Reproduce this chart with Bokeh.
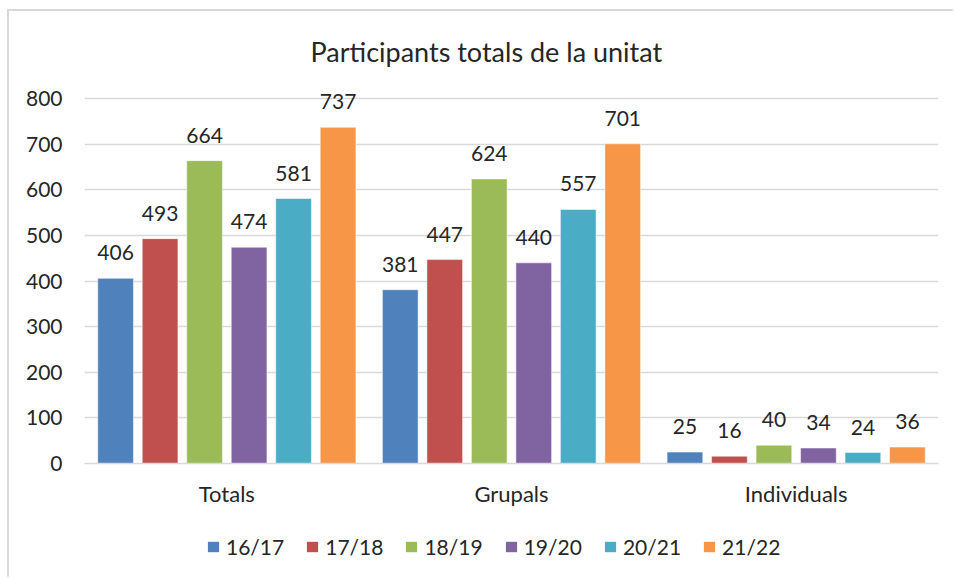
from bokeh.plotting import figure
from bokeh.models import (ColumnDataSource, FactorRange, Range1d, FixedTicker,
                          LabelSet, Legend, LegendItem)
from bokeh.core.properties import value
from bokeh.layouts import column
from bokeh.transform import dodge
from bokeh.embed import file_html
from bokeh.resources import INLINE

categories = ["Totals", "Grupals", "Individuals"]
seasons = ["16/17", "17/18", "18/19", "19/20", "20/21", "21/22"]
v_16_17 = [406, 381, 25]
v_17_18 = [493, 447, 16]
v_18_19 = [664, 624, 40]
v_19_20 = [474, 440, 34]
v_20_21 = [581, 557, 24]
v_21_22 = [737, 701, 36]
series = [v_16_17, v_17_18, v_18_19, v_19_20, v_20_21, v_21_22]
colors = ["#4F81BD", "#C0504D", "#9BBB59", "#8064A2", "#4BACC6", "#F79646"]
y_ticks = [0, 100, 200, 300, 400, 500, 600, 700, 800]

FONT = "Lato"
TXT = "#262626"
GRID = "#d9d9d9"
BORDER = "2px solid #d9d9d9"

p = figure(x_range=FactorRange(*categories, range_padding=0),
           y_range=Range1d(0, 820),
           width=946, height=518, output_backend="svg", toolbar_location=None,
           min_border_left=75, min_border_right=17, min_border_top=78,
           min_border_bottom=66, title="Participants totals de la unitat")
p.styles = {"margin-left": "7px", "margin-top": "9px",
            "border-top": BORDER, "border-left": BORDER}
p.outline_line_color = None

p.title.align = "left"
p.title.offset = 226
p.title.text_font = FONT
p.title.text_font_size = "27px"
p.title.text_font_style = "normal"
p.title.text_color = TXT
p.title.standoff = 40
p.title.vertical_align = "top"

step = 0.1563
width = 0.1254
data = {"cat": categories}
for i, s in enumerate(seasons):
    data["s%d" % i] = series[i]
source = ColumnDataSource(data)

# legend strip (its own small figure; its zero-width bars draw nothing)
lf = figure(x_range=FactorRange(*categories, range_padding=0),
            y_range=Range1d(-20000, -10000), width=946, height=50,
            output_backend="svg", toolbar_location=None,
            min_border_left=0, min_border_right=0, min_border_top=0,
            min_border_bottom=0)
lf.styles = {"margin-left": "7px", "border-left": BORDER}
lf.outline_line_color = None
lf.axis.visible = False
lf.grid.visible = False

items = []
for i, s in enumerate(seasons):
    off = (i - 2.5) * step
    p.vbar(x=dodge("cat", off, range=p.x_range), top="s%d" % i, width=width,
           source=source, fill_color=colors[i], line_color="white",
           line_alpha=0.5, line_width=1)
    lr = lf.vbar(x=dodge("cat", off, range=lf.x_range), top="s%d" % i,
                 width=0, source=source, fill_color=colors[i],
                 line_color=None)
    items.append(LegendItem(label=s, renderers=[lr]))
    lbl = LabelSet(x=dodge("cat", off, range=p.x_range), y="s%d" % i,
                   text="s%d" % i, source=source, text_align="center",
                   text_baseline="alphabetic", y_offset=18,
                   text_font=value(FONT), text_font_size=value("21px"),
                   text_color=TXT)
    p.add_layout(lbl)

p.yaxis.ticker = FixedTicker(ticks=y_ticks)
p.yaxis.axis_line_color = None
p.yaxis.major_tick_line_color = None
p.yaxis.minor_tick_line_color = None
p.yaxis.major_label_standoff = 16
p.yaxis.major_label_text_font = FONT
p.yaxis.major_label_text_font_size = "21px"
p.yaxis.major_label_text_color = TXT

p.xaxis.axis_line_color = GRID
p.xaxis.axis_line_width = 1.5
p.xaxis.major_tick_line_color = None
p.xaxis.minor_tick_line_color = None
p.xaxis.major_label_standoff = 10
p.xaxis.major_label_text_font = FONT
p.xaxis.major_label_text_font_size = "22px"
p.xaxis.major_label_text_color = TXT

p.xgrid.grid_line_color = None
p.ygrid.grid_line_color = GRID
p.ygrid.grid_line_width = 1.5

legend = Legend(items=items, orientation="horizontal", location=(122, 18),
                label_text_font=FONT, label_text_font_size="21px",
                label_text_color=TXT, glyph_width=14, glyph_height=13,
                label_standoff=6, spacing=21, padding=4, margin=0,
                border_line_color=None, background_fill_alpha=0)
lf.add_layout(legend)

layout = column(p, lf, spacing=0)
open("out.html", "w").write(file_html(layout, INLINE))
